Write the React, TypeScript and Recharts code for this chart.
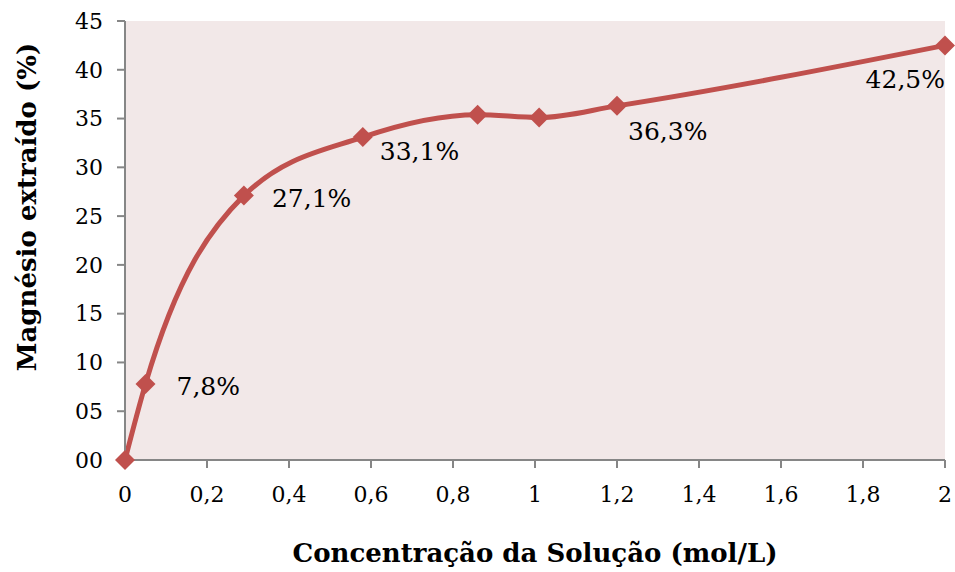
import { LineChart, Line, XAxis, YAxis, LabelList } from "recharts";

const concentrations = [0, 0.05, 0.29, 0.58, 0.86, 1.01, 1.2, 2];
const magnesium = [0, 7.8, 27.1, 33.1, 35.4, 35.1, 36.3, 42.5];
const pointLabels = ["", "7,8%", "27,1%", "33,1%", "", "", "36,3%", "42,5%"];
const xTicks = [0, 0.2, 0.4, 0.6, 0.8, 1, 1.2, 1.4, 1.6, 1.8, 2];
const yTicks = [0, 5, 10, 15, 20, 25, 30, 35, 40, 45];

const data = concentrations.map((x, i) => ({
  x,
  y: magnesium[i],
  label: pointLabels[i],
}));

const font = "'DejaVu Serif', serif";
const red = "#c0504d";
const axisGray = "#868686";

const Diamond = (props: any) => {
  const { cx, cy } = props;
  if (cx == null || cy == null) return null;
  const r = 10;
  return (
    <path
      d={`M${cx},${cy - r}L${cx + r},${cy}L${cx},${cy + r}L${cx - r},${cy}Z`}
      fill={red}
    />
  );
};

// label offsets relative to the point, by point index
const labelOffsets: Record<number, [number, number]> = {
  1: [31, 11],
  2: [28, 11],
  3: [17, 23],
  6: [11, 34],
  7: [0, 43],
};

const PointLabel = (props: any) => {
  const { x, y, value, index } = props;
  if (!value) return null;
  const last = index === data.length - 1;
  const [dx, dy] = labelOffsets[index] || [20, 10];
  return (
    <text
      x={x + dx}
      y={y + dy}
      textAnchor={last ? "end" : "start"}
      fontFamily={font}
      fontSize={25}
      fill="#000"
    >
      {value}
    </text>
  );
};

const YTitle = () => (
  <text
    x={27}
    y={207}
    transform="rotate(-90, 27, 207)"
    textAnchor="middle"
    dominantBaseline="central"
    fontFamily={font}
    fontSize={26}
    fontWeight="bold"
    fill="#000"
  >
    Magnésio extraído (%)
  </text>
);

export default function App() {
  return (
    <div style={{ position: "absolute", left: 0, top: 0, background: "#fff" }}>
      <LineChart
        width={955}
        height={572}
        data={data}
        margin={{ top: 21, right: 10, bottom: 82, left: 0 }}
      >
        <rect x={125} y={21} width={820} height={439} fill="#f2e8e8" />
        <XAxis
          dataKey="x"
          type="number"
          domain={[0, 2]}
          ticks={xTicks}
          tickFormatter={(v: number) => String(v).replace(".", ",")}
          stroke={axisGray}
          strokeWidth={2}
          tickSize={8}
          tickMargin={18}
          tick={{ fill: "#000", fontFamily: font, fontSize: 22 }}
          label={{
            value: "Concentração da Solução (mol/L)",
            position: "insideBottom",
            offset: -72,
            style: { fontFamily: font, fontSize: 26, fontWeight: "bold", fill: "#000" },
          }}
        />
        <YAxis
          type="number"
          domain={[0, 45]}
          ticks={yTicks}
          width={125}
          tickFormatter={(v: number) => String(v).padStart(2, "0")}
          stroke={axisGray}
          strokeWidth={2}
          tickSize={8}
          tickMargin={14}
          tick={{ fill: "#000", fontFamily: font, fontSize: 22 }}
          label={<YTitle />}
        />
        <Line
          dataKey="y"
          type="monotone"
          stroke={red}
          strokeWidth={5}
          dot={<Diamond />}
          activeDot={false}
          isAnimationActive={false}
        >
          <LabelList dataKey="label" content={<PointLabel />} />
        </Line>
      </LineChart>
    </div>
  );
}
